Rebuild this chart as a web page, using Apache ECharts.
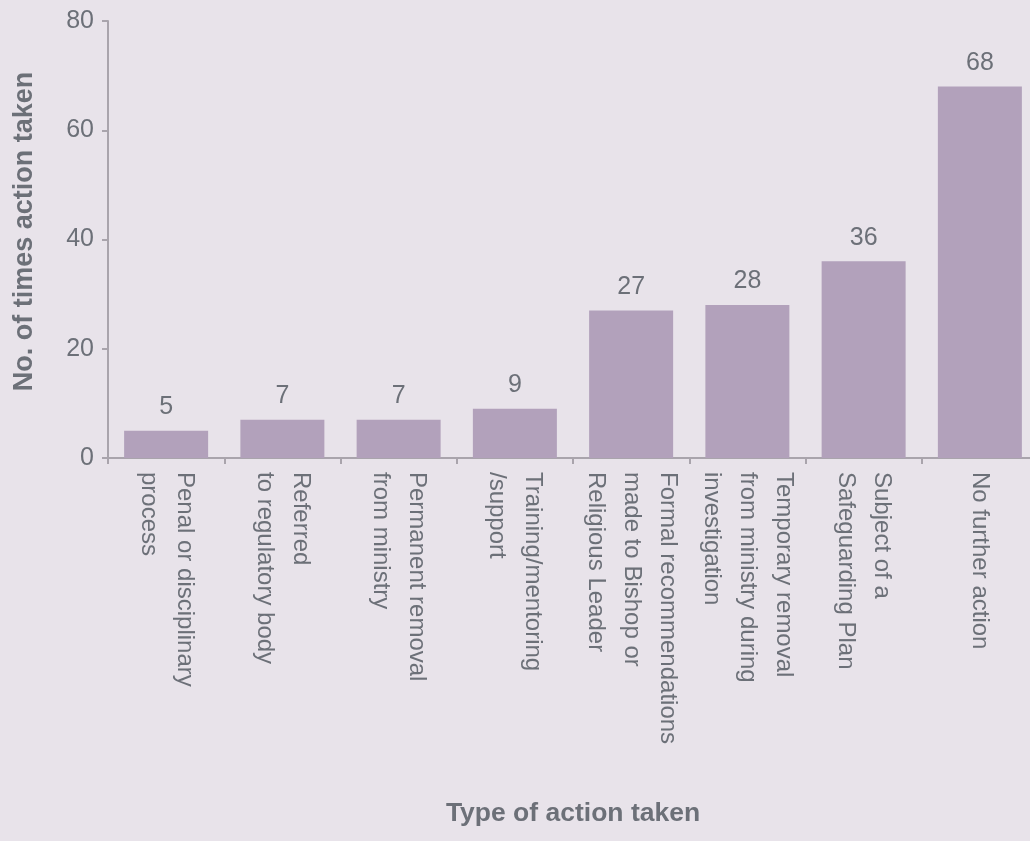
<!DOCTYPE html>
<html><head><meta charset="utf-8">
<script src="https://cdn.jsdelivr.net/npm/echarts@6/dist/echarts.min.js"></script>
<style>html,body{margin:0;padding:0;background:#e8e3ea;overflow:hidden;width:1030px;height:841px;}#c{width:1040px;height:841px;}</style>
</head><body><div id="c"></div>
<script>
const categories = [
  "Penal or disciplinary\nprocess",
  "Referred\nto regulatory body",
  "Permanent removal\nfrom ministry",
  "Training/mentoring\n/support",
  "Formal recommendations\nmade to Bishop or\nReligious Leader",
  "Temporary removal\nfrom ministry during\ninvestigation",
  "Subject of a\nSafeguarding Plan",
  "No further action"
];
const values = [5, 7, 7, 9, 27, 28, 36, 68];
const yTicks = [0, 20, 40, 60, 80];
const xTitle = "Type of action taken";
const yTitle = "No. of times action taken";

const textColor = '#6c7078';
const axisColor = '#a9a4ac';
const font = '"Liberation Sans", Arial, Helvetica, sans-serif';
const chart = echarts.init(document.getElementById('c'));
chart.setOption({
  backgroundColor: '#e8e3ea',
  animation: false,
  grid: { left: 108, width: 930, top: 21, height: 437, containLabel: false },
  xAxis: {
    type: 'category',
    data: categories,
    name: xTitle,
    nameLocation: 'middle',
    nameGap: 342,
    nameTextStyle: { color: textColor, fontSize: 26.5, fontWeight: 'bold', fontFamily: font },
    axisLine: { lineStyle: { color: axisColor, width: 2 } },
    axisTick: { show: true, length: 6, lineStyle: { color: axisColor, width: 2 }, alignWithLabel: false },
    axisLabel: { rotate: -90, margin: 14, color: textColor, fontSize: 24, fontFamily: font, lineHeight: 36, interval: 0 }
  },
  yAxis: {
    type: 'value',
    min: yTicks[0], max: yTicks[yTicks.length - 1], interval: 20,
    name: yTitle,
    nameLocation: 'middle',
    nameRotate: 90,
    nameGap: 70,
    nameTextStyle: { color: textColor, fontSize: 27, fontWeight: 'bold', fontFamily: font, padding: [0, 0, 0, 16] },
    axisLine: { show: true, lineStyle: { color: axisColor, width: 2 } },
    axisTick: { show: true, length: 6, lineStyle: { color: axisColor, width: 2 } },
    splitLine: { show: false },
    axisLabel: { margin: 14, color: textColor, fontSize: 25, fontFamily: font }
  },
  series: [{
    type: 'bar',
    data: values,
    barWidth: 84,
    itemStyle: { color: '#b2a1bb' },
    label: { show: true, position: 'top', distance: 11, color: textColor, fontSize: 25, fontFamily: font }
  }]
});
</script></body></html>
